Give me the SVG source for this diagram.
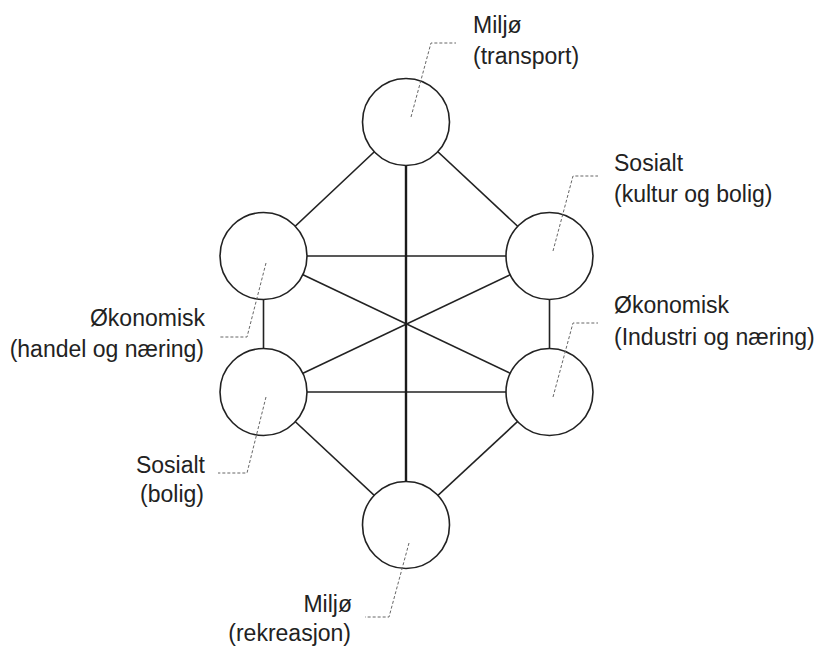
<svg xmlns="http://www.w3.org/2000/svg" width="817" height="648" viewBox="0 0 817 648">
  <style>
    .node { fill: #ffffff; stroke: #222222; stroke-width: 1.6; }
    .edge { stroke: #222222; stroke-width: 1.6; fill: none; }
    .spine { stroke: #1a1a1a; stroke-width: 2.4; fill: none; }
    .lead { stroke: #666666; stroke-width: 1; stroke-dasharray: 3 2; fill: none; }
    .lbl { font-family: "Liberation Sans", "DejaVu Sans", sans-serif; font-size: 23px; fill: #222222; }
    .end { text-anchor: end; }
  </style>

  <!-- connectors between the six nodes -->
  <g id="connectors">
    <line class="edge" x1="406" y1="122" x2="263.5" y2="256"/>
    <line class="edge" x1="406" y1="122" x2="549.5" y2="256"/>
    <line class="edge" x1="263.5" y1="256" x2="549.5" y2="256"/>
    <line class="edge" x1="263.5" y1="256" x2="549.5" y2="392"/>
    <line class="edge" x1="549.5" y1="256" x2="263.5" y2="392"/>
    <line class="edge" x1="263.5" y1="256" x2="263.5" y2="392"/>
    <line class="edge" x1="549.5" y1="256" x2="549.5" y2="392"/>
    <line class="edge" x1="263.5" y1="392" x2="549.5" y2="392"/>
    <line class="edge" x1="263.5" y1="392" x2="406" y2="525"/>
    <line class="edge" x1="549.5" y1="392" x2="406" y2="525"/>
    <line class="spine" x1="406" y1="165.5" x2="406" y2="481.5"/>
  </g>

  <g id="node-top">
    <circle class="node" cx="406" cy="122" r="43.5"/>
    <polyline class="lead" points="411,117 431,43 456,43"/>
    <text class="lbl" x="473" y="33">Miljø</text>
    <text class="lbl" x="473" y="64">(transport)</text>
  </g>

  <g id="node-upper-right">
    <circle class="node" cx="549.5" cy="256" r="43.5"/>
    <polyline class="lead" points="553,251 573,176 598,176"/>
    <text class="lbl" x="614" y="170.5">Sosialt</text>
    <text class="lbl" x="614" y="201.5">(kultur og bolig)</text>
  </g>

  <g id="node-upper-left">
    <circle class="node" cx="263.5" cy="256" r="43.5"/>
    <polyline class="lead" points="266,263 247,337 220,337"/>
    <text class="lbl end" x="205" y="326">Økonomisk</text>
    <text class="lbl end" x="204" y="357">(handel og næring)</text>
  </g>

  <g id="node-lower-right">
    <circle class="node" cx="549.5" cy="392" r="43.5"/>
    <polyline class="lead" points="553,397 573,323 598,323"/>
    <text class="lbl" x="614" y="313">Økonomisk</text>
    <text class="lbl" x="614" y="344.5">(Industri og næring)</text>
  </g>

  <g id="node-lower-left">
    <circle class="node" cx="263.5" cy="392" r="43.5"/>
    <polyline class="lead" points="266,397 247,473 218,473"/>
    <text class="lbl end" x="205" y="472.5">Sosialt</text>
    <text class="lbl end" x="204" y="502">(bolig)</text>
  </g>

  <g id="node-bottom">
    <circle class="node" cx="406" cy="525" r="43.5"/>
    <polyline class="lead" points="409,543 389,617 365,617"/>
    <text class="lbl end" x="352" y="611.5">Miljø</text>
    <text class="lbl end" x="351" y="641">(rekreasjon)</text>
  </g>
</svg>
